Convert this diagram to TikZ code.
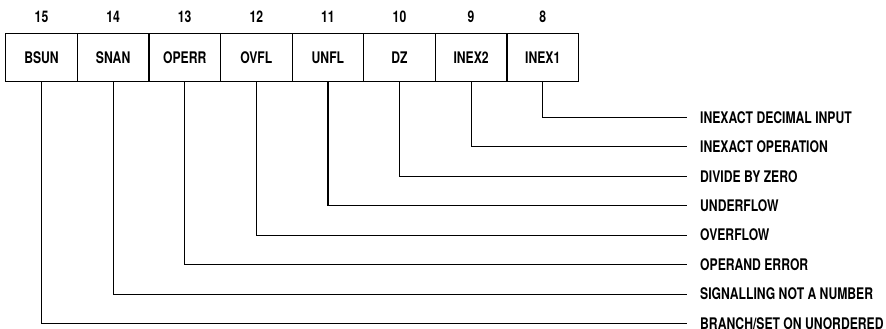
\documentclass[tikz,border=0pt]{standalone}
\usepackage{fontspec}
\setmainfont{TeX Gyre Heros}[FakeStretch=0.76]
\usetikzlibrary{positioning}
\tikzset{
    %Define style for register cells
    bitbox/.style={
           rectangle,
           draw=black,
           line width=1.2pt,
           minimum width=71.6pt,
           minimum height=48pt,
           inner sep=0pt,
           outer sep=0pt,
           font=\fontsize{16}{18}\selectfont\bfseries,
           text centered,
           },
    %Define style for bit numbers
    bitnum/.style={
           inner sep=0pt,
           text height=11.5pt,
           text depth=0pt,
           font=\fontsize{16}{18}\selectfont\bfseries,
           },
    %Define style for descriptions
    desc/.style={
           anchor=west,
           inner sep=0pt,
           text height=11.5pt,
           text depth=0pt,
           font=\fontsize{16}{18}\selectfont\bfseries,
           },
    % Define connector style
    wire/.style={
           line width=1.2pt,
           shorten >=13.5pt,},
}
\begin{document}
\begin{tikzpicture}[x=1pt,y=1pt]
\path[use as bounding box] (0,0) rectangle (886,-329);
% register bits 15..8
\node[bitbox] (b15) at (41.5,-57.5) {BSUN};
\node[bitbox, right=0pt of b15] (b14) {SNAN};
\node[bitbox, right=0pt of b14] (b13) {OPERR};
\node[bitbox, right=0pt of b13] (b12) {OVFL};
\node[bitbox, right=0pt of b12] (b11) {UNFL};
\node[bitbox, right=0pt of b11] (b10) {DZ};
\node[bitbox, right=0pt of b10] (b9) {INEX2};
\node[bitbox, right=0pt of b9] (b8) {INEX1};
% bit numbers
\node[bitnum, above=11pt of b15] (n15) {15};
\node[bitnum, above=11pt of b14] (n14) {14};
\node[bitnum, above=11pt of b13] (n13) {13};
\node[bitnum, above=11pt of b12] (n12) {12};
\node[bitnum, above=11pt of b11] (n11) {11};
\node[bitnum, above=11pt of b10] (n10) {10};
\node[bitnum, above=11pt of b9] (n9) {9};
\node[bitnum, above=11pt of b8] (n8) {8};
% descriptions
\node[desc] (d8) at (700,-117.4) {INEXACT DECIMAL INPUT};
\node[desc, below=17.55pt of d8.south west, anchor=north west] (d9) {INEXACT OPERATION};
\node[desc, below=17.55pt of d9.south west, anchor=north west] (d10) {DIVIDE BY ZERO};
\node[desc, below=17.55pt of d10.south west, anchor=north west] (d11) {UNDERFLOW};
\node[desc, below=17.55pt of d11.south west, anchor=north west] (d12) {OVERFLOW};
\node[desc, below=17.55pt of d12.south west, anchor=north west] (d13) {OPERAND ERROR};
\node[desc, below=17.55pt of d13.south west, anchor=north west] (d14) {SIGNALLING NOT A NUMBER};
\node[desc, below=17.55pt of d14.south west, anchor=north west] (d15) {BRANCH/SET ON UNORDERED};
% connectors
\draw[wire] (b8.south) |- (d8.west);
\draw[wire] (b9.south) |- (d9.west);
\draw[wire] (b10.south) |- (d10.west);
\draw[wire] (b11.south) |- (d11.west);
\draw[wire] (b12.south) |- (d12.west);
\draw[wire] (b13.south) |- (d13.west);
\draw[wire] (b14.south) |- (d14.west);
\draw[wire] (b15.south) |- (d15.west);
\end{tikzpicture}
\end{document}
